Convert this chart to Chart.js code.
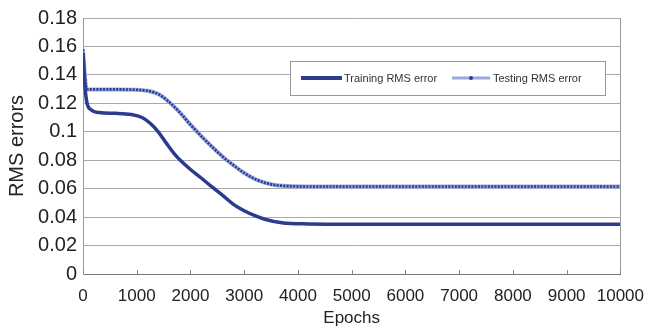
<!DOCTYPE html>
<html>
<head>
<meta charset="utf-8">
<script src="https://cdn.jsdelivr.net/npm/chart.js@4/dist/chart.umd.min.js"></script>
<style>
  html, body { margin: 0; padding: 0; background: #fff; }
  #wrap { width: 648px; height: 329px; }
</style>
</head>
<body>
<div id="wrap"><canvas id="rmsChart"></canvas></div>
<script>
// values
const trainEpochs = [0, 30, 70, 150, 300, 600, 900, 1100, 1250, 1400, 1550, 1700, 1850, 2000, 2200, 2400, 2600, 2800, 3000, 3200, 3400, 3700, 4200, 5000, 7000, 10000];
const trainRms = [0.155, 0.135, 0.121, 0.1155, 0.1135, 0.113, 0.1122, 0.110, 0.106, 0.100, 0.092, 0.0845, 0.0785, 0.0735, 0.0675, 0.0612, 0.0553, 0.049, 0.0445, 0.041, 0.0383, 0.036, 0.0352, 0.035, 0.035, 0.035];

const testEpochs = [0, 25, 60, 100, 600, 1000, 1200, 1400, 1600, 1800, 2000, 2200, 2400, 2600, 2800, 3000, 3200, 3400, 3600, 3900, 4500, 10000];
const testRms = [0.158, 0.145, 0.131, 0.1298, 0.1298, 0.1295, 0.1288, 0.1265, 0.121, 0.1137, 0.105, 0.097, 0.0895, 0.0825, 0.0765, 0.071, 0.0668, 0.064, 0.0624, 0.0617, 0.0615, 0.0615];

const xTicks = [0, 1000, 2000, 3000, 4000, 5000, 6000, 7000, 8000, 9000, 10000];
const yTicks = [0, 0.02, 0.04, 0.06, 0.08, 0.1, 0.12, 0.14, 0.16, 0.18];

const seriesNames = ["Training RMS error", "Testing RMS error"];

const toPoints = (xs, ys) => xs.map((x, i) => ({ x: x, y: ys[i] }));

const navy = "#2c3a8f";
const lightBlue = "#9aa8e0";
const fontFam = "'Liberation Sans', Arial, sans-serif";

// legend box drawn inside the plot, plus small inner x ticks
const insideLegend = {
  id: "insideLegend",
  afterDraw(chart) {
    const ctx = chart.ctx;
    const area = chart.chartArea;
    const xs = chart.scales.x;
    ctx.save();
    // inner tick marks on the x axis
    ctx.strokeStyle = "#888";
    ctx.lineWidth = 1;
    xTicks.forEach(t => {
      const px = Math.round(xs.getPixelForValue(t)) + 0.5;
      ctx.beginPath();
      ctx.moveTo(px, area.bottom);
      ctx.lineTo(px, area.bottom - 4);
      ctx.stroke();
    });

    const bx = 290, by = 61, bw = 315, bh = 34;
    ctx.fillStyle = "#fff";
    ctx.fillRect(bx, by, bw, bh);
    ctx.strokeStyle = "#999";
    ctx.strokeRect(bx + 0.5, by + 0.5, bw, bh);
    const cy = by + bh / 2;

    ctx.lineCap = "butt";
    ctx.strokeStyle = navy;
    ctx.lineWidth = 4;
    ctx.beginPath();
    ctx.moveTo(301, cy);
    ctx.lineTo(342, cy);
    ctx.stroke();

    ctx.strokeStyle = lightBlue;
    ctx.lineWidth = 3;
    ctx.beginPath();
    ctx.moveTo(452, cy);
    ctx.lineTo(490, cy);
    ctx.stroke();
    ctx.fillStyle = navy;
    ctx.beginPath();
    ctx.arc(471, cy, 2, 0, Math.PI * 2);
    ctx.fill();

    ctx.fillStyle = "#333";
    ctx.font = "11px " + fontFam;
    ctx.textBaseline = "middle";
    ctx.fillText(seriesNames[0], 344, cy + 1);
    ctx.fillText(seriesNames[1], 493, cy + 1);
    ctx.restore();
  }
};

const ctx = document.getElementById("rmsChart").getContext("2d");
new Chart(ctx, {
  type: "line",
  data: {
    datasets: [
      {
        label: seriesNames[0],
        data: toPoints(trainEpochs, trainRms),
        borderColor: navy,
        borderWidth: 3.5,
        pointRadius: 0,
        cubicInterpolationMode: "monotone",
        order: 0,
      },
      {
        label: seriesNames[1],
        data: toPoints(testEpochs, testRms),
        borderColor: lightBlue,
        borderWidth: 4,
        pointRadius: 0,
        cubicInterpolationMode: "monotone",
        order: 2,
      },
      {
        // dark dotted overlay for the testing line
        label: "testing dots",
        data: toPoints(testEpochs, testRms),
        borderColor: navy,
        borderWidth: 2.6,
        borderDash: [2, 1.3],
        pointRadius: 0,
        cubicInterpolationMode: "monotone",
        order: 1,
      },
    ],
  },
  options: {
    responsive: true,
    maintainAspectRatio: false,
    animation: false,
    layout: { padding: { top: 14, right: 27, left: 0, bottom: 0 } },
    plugins: {
      legend: { display: false },
      tooltip: { enabled: false },
    },
    scales: {
      x: {
        type: "linear",
        min: 0,
        max: 10000,
        afterBuildTicks: s => { s.ticks = xTicks.map(v => ({ value: v })); },
        afterFit: s => { s.height = 55; },
        ticks: {
          color: "#222",
          font: { family: fontFam, size: 17 },
          padding: 4,
          maxRotation: 0,
          callback: v => String(v),
        },
        grid: { display: false },
        border: { color: "#777", width: 1 },
        title: {
          display: true,
          text: "Epochs",
          color: "#222",
          font: { family: fontFam, size: 17 },
          padding: { top: 0, bottom: 0 },
        },
      },
      y: {
        min: 0,
        max: 0.18,
        afterBuildTicks: s => { s.ticks = yTicks.map(v => ({ value: v })); },
        afterFit: s => { s.width = 83; },
        ticks: {
          color: "#222",
          font: { family: fontFam, size: 20 },
          padding: 6,
          callback: v => String(parseFloat(v.toFixed(2))),
        },
        grid: { color: "#aaa", lineWidth: 1, drawTicks: false },
        border: { color: "#999", width: 1 },
        title: {
          display: true,
          text: "RMS errors",
          color: "#222",
          font: { family: fontFam, size: 20 },
          padding: { top: 5, bottom: 2 },
        },
      },
    },
  },
  plugins: [insideLegend, {
    id: "rightBorder",
    afterDatasetsDraw(chart) {
      const a = chart.chartArea;
      const c = chart.ctx;
      c.save();
      c.strokeStyle = "#999";
      c.lineWidth = 1;
      c.beginPath();
      c.moveTo(Math.round(a.right) + 0.5, a.top);
      c.lineTo(Math.round(a.right) + 0.5, a.bottom);
      c.stroke();
      c.restore();
    }
  }],
});
</script>
</body>
</html>
